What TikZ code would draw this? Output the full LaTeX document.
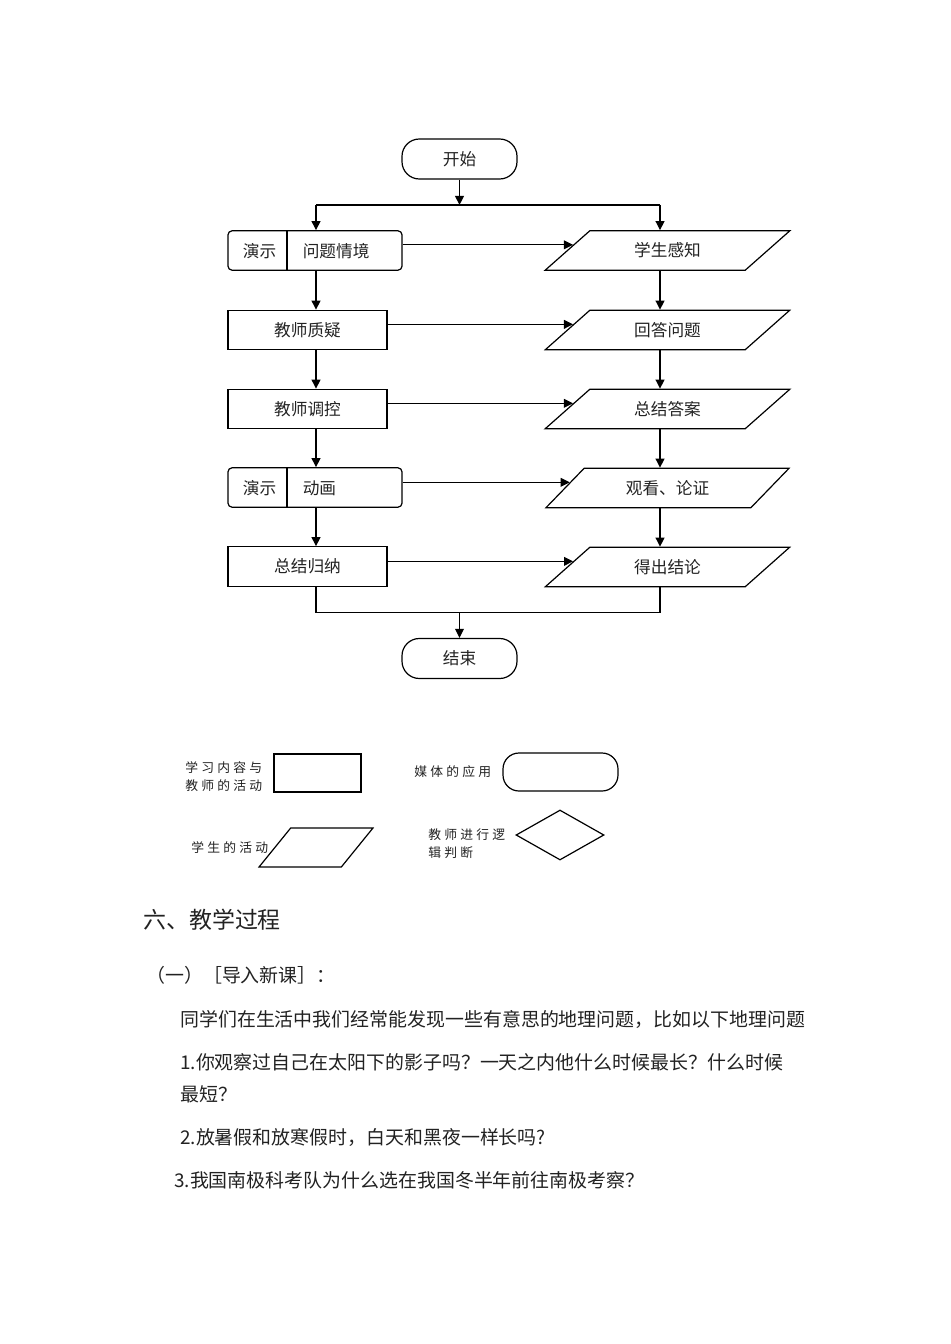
\documentclass[tikz,border=0pt]{standalone}
\usepackage{fontspec}
\setmainfont{Noto Sans CJK SC}
\newfontfamily\cjkls[LetterSpace=25]{Noto Sans CJK SC}
\usetikzlibrary{arrows.meta,shapes.geometric,calc}
\definecolor{ink}{HTML}{222222}
\tikzset{
  arr/.style={-{Triangle[length=6.8pt,width=6.6pt]}},
  ln/.style={line width=0.9pt, draw=black},
  flowtxt/.style={font=\fontsize{12.5}{14}\selectfont, text=ink},
  term/.style={ln, rounded corners=13pt, minimum width=86.25pt, minimum height=30pt, inner sep=0pt, flowtxt},
  lbox/.style={ln, minimum height=29.5pt, inner sep=0pt, flowtxt},
  sbox/.style={lbox, minimum width=119.25pt},
  rbox/.style={lbox, minimum width=130.5pt, rounded corners=3pt},
  para/.style={ln, trapezium, trapezium left angle=39, trapezium right angle=141,
    trapezium stretches=true, minimum width=183.75pt, minimum height=29.5pt, inner sep=0pt, flowtxt},
  legtxt/.style={font=\cjkls\fontsize{9.6}{13.5}\selectfont, text=ink, inner sep=0pt, anchor=west, align=left},
  body/.style={font=\fontsize{14.2}{17}\selectfont, text=ink, inner sep=0pt, anchor=west},
}
\begin{document}
\begin{tikzpicture}[x=0.75pt,y=-0.75pt]
\useasboundingbox (0,0) rectangle (950,1344);
% column coordinates
\coordinate (xl) at (316,0);
\coordinate (xr) at (660,0);
\coordinate (split) at (459.5,205);
\coordinate (merge) at (459.5,612.5);
\coordinate (div) at (287,0);
% terminals
\node[term] (S) at (459.5,159) {开始};
\node[term] (E) at (459.5,658.5) {结束};
% left column
\node[rbox] (L1) at (315,250.5) {};
\node[sbox] (L2) at (307.5,330) {教师质疑};
\node[sbox] (L3) at (307.5,409) {教师调控};
\node[rbox] (L4) at (315,487.5) {};
\node[sbox] (L5) at (307.5,566.5) {总结归纳};
\draw[ln] (L1.north -| div) -- (L1.south -| div);
\draw[ln] (L4.north -| div) -- (L4.south -| div);
\node[flowtxt, inner sep=0pt] (L1a) at (259.5,251) {演示};
\node[flowtxt, inner sep=0pt, anchor=west] (L1b) at (302.5,251) {问题情境};
\node[flowtxt, inner sep=0pt] (L4a) at (259.5,488) {演示};
\node[flowtxt, inner sep=0pt, anchor=west] (L4b) at (302.5,488) {动画};
% right column
\node[para] (P1) at (667.5,250.5) {学生感知};
\node[para] (P2) at (667.5,330) {回答问题};
\node[para] (P3) at (667.5,409) {总结答案};
\node[para] (P4) at (667.5,488) {观看、论证};
\node[para] (P5) at (667.5,567) {得出结论};
% entry points on the slanted edges
\path (P1.bottom left corner) -- (P1.top left corner) coordinate[pos=0.64] (P1in);
\path (P2.bottom left corner) -- (P2.top left corner) coordinate[pos=0.64] (P2in);
\path (P3.bottom left corner) -- (P3.top left corner) coordinate[pos=0.64] (P3in);
\path (P4.bottom left corner) -- (P4.top left corner) coordinate[pos=0.64] (P4in);
\path (P5.bottom left corner) -- (P5.top left corner) coordinate[pos=0.64] (P5in);
% connectors
\draw[ln,arr] (S.south) -- (split);
\draw[ln] (xl |- split) -- (xr |- split);
\draw[ln,arr] (xl |- split) -- (xl |- L1.north);
\draw[ln,arr] (xr |- split) -- (xr |- P1.north);
\draw[ln,arr] (xl |- L1.south) -- (xl |- L2.north);
\draw[ln,arr] (xl |- L2.south) -- (xl |- L3.north);
\draw[ln,arr] (xl |- L3.south) -- (xl |- L4.north);
\draw[ln,arr] (xl |- L4.south) -- (xl |- L5.north);
\draw[ln,arr] (xr |- P1.south) -- (xr |- P2.north);
\draw[ln,arr] (xr |- P2.south) -- (xr |- P3.north);
\draw[ln,arr] (xr |- P3.south) -- (xr |- P4.north);
\draw[ln,arr] (xr |- P4.south) -- (xr |- P5.north);
\draw[ln,arr] (L1.east |- P1in) -- (P1in);
\draw[ln,arr] (L2.east |- P2in) -- (P2in);
\draw[ln,arr] (L3.east |- P3in) -- (P3in);
\draw[ln,arr] (L4.east |- P4in) -- (P4in);
\draw[ln,arr] (L5.east |- P5in) -- (P5in);
\draw[ln] (xl |- L5.south) -- (xl |- merge) -- (xr |- merge) -- (xr |- P5.south);
\draw[ln,arr] (merge) -- (E.north);
% legend
\node[ln, minimum width=65.25pt, minimum height=28.5pt, inner sep=0pt] (Gr) at (317.5,773) {};
\node[ln, rounded corners=12pt, minimum width=86.25pt, minimum height=28.5pt, inner sep=0pt] (Gt) at (560.5,772) {};
\node[ln, trapezium, trapezium left angle=55.3, trapezium right angle=124.7, trapezium stretches=true,
  minimum width=85.5pt, minimum height=29.25pt, inner sep=0pt] (Gp) at (316,847.5) {\phantom{M}};
\node[ln, diamond, minimum width=66pt, minimum height=37.5pt, inner sep=0pt] (Gd) at (560,835) {\phantom{M}};
\node[legtxt] (T1) at (185,777) {学习内容与\\教师的活动};
\node[legtxt] (T2) at (414,772) {媒体的应用};
\node[legtxt] (T3) at (191,848) {学生的活动};
\node[legtxt] (T4) at (428,844) {教师进行逻\\辑判断};
% text section
\node[body, font=\fontsize{17.2}{20}\selectfont] (H) at (143,920) {六、教学过程};
\node[body] (B0) at (146,975) {（一）［导入新课］：};
\node[body] (B1) at (180,1019) {同学们在生活中我们经常能发现一些有意思的地理问题，比如以下地理问题};
\node[body] (B2) at (180,1062) {1.你观察过自己在太阳下的影子吗？一天之内他什么时候最长？什么时候};
\node[body] (B3) at (180,1094) {最短？};
\node[body] (B4) at (180,1137) {2.放暑假和放寒假时，白天和黑夜一样长吗?};
\node[body] (B5) at (174,1180) {3.我国南极科考队为什么选在我国冬半年前往南极考察？};
\end{tikzpicture}
\end{document}
